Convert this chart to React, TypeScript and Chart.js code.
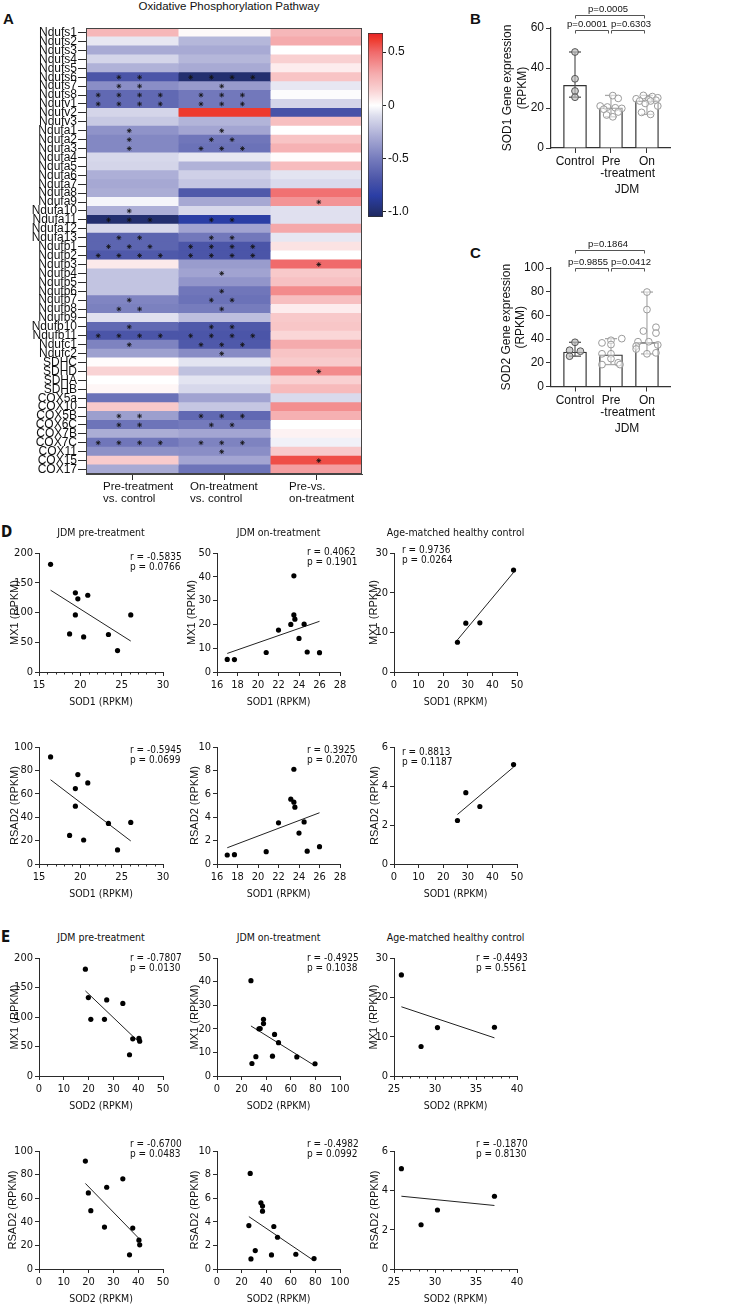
import React, { useEffect, useRef } from 'react';
import { Chart, registerables } from 'chart.js';

Chart.register(...registerables);

const REG = "'Liberation Sans', Arial, Helvetica, sans-serif";
const NAR = "'Liberation Sans Narrow', 'Arial Narrow', 'DejaVu Sans Condensed', 'Liberation Sans', sans-serif";
const AXIS = '#2a2a2a';
Chart.defaults.color = '#111';
Chart.defaults.font.family = REG;

// ================= Panel A : heatmap =================
const genes = ['Ndufs1','Ndufs2','Ndufs3','Ndufs4','Ndufs5','Ndufs6','Ndufs7','Ndufs8','Ndufv1','Ndufv2','Ndufv3','Ndufa1','Ndufa2','Ndufa3','Ndufa4','Ndufa5','Ndufa6','Ndufa7','Ndufa8','Ndufa9','Ndufa10','Ndufa11','Ndufa12','Ndufa13','Ndufb1','Ndufb2','Ndufb3','Ndufb4','Ndufb5','Ndufb6','Ndufb7','Ndufb8','Ndufb9','Ndufb10','Ndufb11','Ndufc1','Ndufc2','SDHC','SDHD','SDHA','SDHB','COX5a','COX10','COX5B','COX6C','COX7B','COX7C','COX11','COX15','COX17'];
const heatColumnLabels = [['Pre-treatment', 'vs. control'], ['On-treatment', 'vs. control'], ['Pre-vs.', 'on-treatment']];
const preVsControl = [0.25,-0.07,-0.3,-0.13,-0.27,-0.7,-0.42,-0.6,-0.6,-0.13,
  -0.18,-0.4,-0.45,-0.45,-0.12,-0.13,-0.28,-0.31,-0.29,-0.03,
  -0.28,-1.0,-0.12,-0.62,-0.62,-0.68,0.07,-0.2,-0.2,-0.2,
  -0.46,-0.48,-0.09,-0.6,-0.7,-0.47,-0.34,0.01,0.14,0.0,
  0.03,-0.55,0.18,-0.35,-0.54,-0.29,-0.53,-0.41,0.17,-0.3];
const onVsControl = [0.02,-0.25,-0.3,-0.25,-0.3,-1.0,-0.37,-0.52,-0.52,0.62,
  -0.26,-0.32,-0.53,-0.55,-0.07,-0.27,-0.15,-0.19,-0.68,-0.31,
  -0.12,-0.85,-0.33,-0.52,-0.7,-0.7,-0.36,-0.33,-0.39,-0.53,
  -0.55,-0.5,-0.22,-0.68,-0.7,-0.68,-0.43,-0.08,-0.21,-0.08,
  -0.12,-0.33,-0.19,-0.6,-0.51,-0.32,-0.47,-0.42,-0.32,-0.54];
const preVsOn = [0.25,0.3,0.0,0.15,0.06,0.2,-0.07,-0.01,-0.13,-0.72,
  0.22,0.0,0.2,0.27,0.01,0.23,-0.08,-0.11,0.48,0.37,
  -0.09,-0.09,0.31,-0.07,0.09,0.0,0.5,0.18,0.21,0.4,
  0.22,0.06,0.18,0.19,0.13,0.3,0.2,0.17,0.4,0.15,
  0.24,-0.11,0.39,0.28,0.0,0.04,-0.04,0.18,0.57,0.34];
const starsPreVsControl = [0,0,0,0,0,2,2,4,4,0, 0,1,1,1,0,0,0,0,0,0, 1,3,0,2,3,4,0,0,0,0, 1,2,0,1,4,1,0,0,0,0, 0,0,0,2,2,0,4,0,0,0];
const starsOnVsControl = [0,0,0,0,0,4,1,3,3,0, 0,1,2,3,0,0,0,0,0,0, 0,2,0,2,4,4,0,1,0,1, 2,1,0,2,4,3,1,0,0,0, 0,0,0,3,2,0,3,1,0,0];
const starsPreVsOn = [0,0,0,0,0,0,0,0,0,0, 0,0,0,0,0,0,0,0,0,1, 0,0,0,0,0,0,1,0,0,0, 0,0,0,0,0,0,0,0,1,0, 0,0,0,0,0,0,0,0,1,0];
const colorbarRange = [-1.05, 0.68];
const colorbarTicks = [-1, -0.5, 0, 0.5];
const colorbarTickLabels = ['-1.0', '-0.5', '0', '0.5'];

// ================= Panels B / C =================
const groupNames = ['Control', 'Pre-treatment', 'On-treatment'];
const groupTickLabels = [['Control'], ['Pre', '          -treatment'], ['On']];
const sod1Median = [31.3, 20.1, 23.6];
const sod1Range = [[25.4, 48], [15.6, 26.3], [16.8, 26.3]];
const sod1CtrlB = [48, 34.6, 28.5, 25.4];
const sod1PreB = [26.2, 24.8, 21.0, 20.5, 20.1, 19.8, 19.4, 18.0, 16.5, 15.6];
const sod1OnB = [26.3, 25.7, 25.1, 24.6, 24.1, 23.9, 23.5, 23.5, 22.3, 21.0, 17.8, 16.8];
const jitCtrlB = [0, 0, 0, 0];
const jitPreB = [0.05, 0.2, -0.3, -0.1, 0.12, 0.3, -0.2, 0.2, -0.12, 0.05];
const jitOnB = [-0.1, 0.15, 0.3, -0.3, 0.05, 0.25, -0.2, 0.1, -0.05, 0.3, -0.15, 0.1];
const sod1Brackets = [
  { from: 0, to: 2, level: 66.5, label: 'p=0.0005', dx: -2 },
  { from: 0, to: 1, level: 59, label: 'p=0.0001', dx: -5 },
  { from: 1, to: 2, level: 59, label: 'p=0.6303', dx: 3 },
];
const sod2Median = [29.1, 26.8, 37.1];
const sod2Range = [[25.6, 37.3], [18.5, 40.4], [27.5, 79.7]];
const sod2CtrlC = [37.3, 30.6, 29.8, 25.6];
const sod2PreC = [40.4, 39.0, 36.8, 35.4, 27.6, 27.6, 23.5, 20.0, 18.5, 18.5];
const sod2OnC = [79.7, 64.9, 50.0, 46.8, 45.1, 37.8, 37.8, 35.1, 34.1, 31.6, 28.4, 27.6];
const jitCtrlC = [0, -0.15, 0.15, -0.15];
const jitPreC = [0.3, 0, -0.25, 0, -0.25, 0, 0, 0.2, -0.25, 0.25];
const jitOnC = [0, 0, 0.25, -0.1, 0.25, -0.25, 0.05, 0.3, -0.3, -0.3, 0.25, 0];
const sod2Brackets = [
  { from: 0, to: 2, level: 115.2, label: 'p=0.1864', dx: -2 },
  { from: 0, to: 1, level: 100, label: 'p=0.9855', dx: -4 },
  { from: 1, to: 2, level: 100, label: 'p=0.0412', dx: 3 },
];

// ================= Panels D / E : scatter =================
const sod1Pre = [16.4, 18.7, 19.4, 19.4, 19.7, 20.4, 20.9, 23.4, 24.5, 26.1];
const mx1Pre = [181, 64, 133, 96, 123, 59, 129, 63, 36, 96];
const rsad2Pre = [91.5, 24.4, 64.5, 49.4, 76.4, 20.5, 69.3, 34.7, 12, 35.5];
const sod1On = [17.0, 17.7, 20.8, 22.0, 23.2, 23.5, 23.5, 23.6, 24.0, 24.5, 24.8, 26.0];
const mx1On = [5.3, 5.2, 8.2, 17.6, 20.0, 40.4, 24.0, 22.2, 14.1, 20.1, 8.4, 8.1];
const rsad2On = [0.77, 0.8, 1.05, 3.52, 5.54, 8.1, 5.28, 4.86, 2.64, 3.6, 1.1, 1.48];
const sod1Ctrl = [25.8, 29.2, 34.9, 48.6];
const mx1Ctrl = [7.5, 12.3, 12.4, 25.7];
const rsad2Ctrl = [2.23, 3.66, 2.95, 5.1];

const sod2Pre = [18.7, 19.9, 20.9, 26.4, 27.3, 33.8, 36.5, 37.8, 40.3, 40.6];
const mx1PreE = [181, 133, 96, 96, 129, 123, 36, 63, 64, 59];
const rsad2PreE = [91.5, 64.5, 49.4, 35.5, 69.3, 76.4, 12, 34.7, 24.4, 20.5];
const sod2OnMx = [27.6, 34.1, 35.1, 37.8, 37.8, 46.8, 50.0, 28.4, 31.6, 45.1, 64.9, 79.7];
const mx1OnE = [40.4, 20.0, 20.1, 24.0, 22.2, 17.6, 14.1, 5.3, 8.2, 8.4, 8.1, 5.2];
const sod2OnRs = [35.7, 37.0, 37.0, 25.9, 46.2, 49.2, 31.1, 27.6, 44.3, 64.1, 78.9, 27.0];
const rsad2OnE = [5.61, 5.33, 4.9, 3.68, 3.6, 2.69, 1.56, 0.85, 1.19, 1.25, 0.88, 8.1];
const sod2Ctrl = [25.9, 28.3, 30.3, 37.25];
const mx1CtrlE = [25.7, 7.5, 12.3, 12.4];
const rsad2CtrlE = [5.1, 2.25, 3.0, 3.7];

const fitD1 = [[16.4, 137.5], [26.1, 52]];
const fitD2 = [[17.0, 7.8], [26.0, 21.3]];
const fitD3 = [[25.8, 8.1], [48.6, 25.1]];
const fitD4 = [[16.4, 72], [26.1, 19.7]];
const fitD5 = [[17.0, 1.39], [26.0, 4.38]];
const fitD6 = [[25.8, 2.54], [48.6, 4.97]];
const fitE1 = [[18.7, 144.3], [40.6, 56.3]];
const fitE2 = [[27.6, 21.2], [79.7, 4.3]];
const fitE3 = [[25.9, 17.6], [37.25, 9.7]];
const fitE4 = [[18.7, 72.5], [40.6, 25.2]];
const fitE5 = [[25.9, 4.44], [78.9, 0.7]];
const fitE6 = [[25.9, 3.7], [37.25, 3.23]];

const corrR = ['r = -0.5835', 'r = 0.4062', 'r = 0.9736', 'r = -0.5945', 'r = 0.3925', 'r = 0.8813', 'r = -0.7807', 'r = -0.4925', 'r = -0.4493', 'r = -0.6700', 'r = -0.4982', 'r = -0.1870'];
const corrP = ['p = 0.0766', 'p = 0.1901', 'p = 0.0264', 'p = 0.0699', 'p = 0.2070', 'p = 0.1187', 'p = 0.0130', 'p = 0.1038', 'p = 0.5561', 'p = 0.0483', 'p = 0.0992', 'p = 0.8130'];
const groupTitles = ['JDM pre-treatment', 'JDM on-treatment', 'Age-matched healthy control'];

// ---------- layout (positions / styles) ----------
const COLS = [[39, 163], [217, 340], [394, 517]];
const ROWS = [[553, 672], [747, 864], [958, 1076], [1151, 1269]];

type ScatterSpec = {
  xs: number[]; ys: number[]; fit: number[][];
  xAxis: number[]; yAxis: number[]; xTitle: string; yTitle: string;
  col: number; row: number; yGap: number; textX: number; textY: number;
};
const scatterSpecs: ScatterSpec[] = [
  { xs: sod1Pre, ys: mx1Pre, fit: fitD1, xAxis: [15, 30, 5, 1], yAxis: [0, 200, 50], xTitle: 'SOD1 (RPKM)', yTitle: 'MX1 (RPKM)', col: 0, row: 0, yGap: 24, textX: 130, textY: 557 },
  { xs: sod1On, ys: mx1On, fit: fitD2, xAxis: [16, 28, 2, 0], yAxis: [0, 50, 10], xTitle: 'SOD1 (RPKM)', yTitle: 'MX1 (RPKM)', col: 1, row: 0, yGap: 25, textX: 307, textY: 552 },
  { xs: sod1Ctrl, ys: mx1Ctrl, fit: fitD3, xAxis: [0, 50, 10, 0], yAxis: [0, 30, 10], xTitle: 'SOD1 (RPKM)', yTitle: 'MX1 (RPKM)', col: 2, row: 0, yGap: 20.5, textX: 402, textY: 550 },
  { xs: sod1Pre, ys: rsad2Pre, fit: fitD4, xAxis: [15, 30, 5, 1], yAxis: [0, 100, 20], xTitle: 'SOD1 (RPKM)', yTitle: 'RSAD2 (RPKM)', col: 0, row: 1, yGap: 24, textX: 130, textY: 750 },
  { xs: sod1On, ys: rsad2On, fit: fitD5, xAxis: [16, 28, 2, 0], yAxis: [0, 10, 2], xTitle: 'SOD1 (RPKM)', yTitle: 'RSAD2 (RPKM)', col: 1, row: 1, yGap: 22, textX: 307, textY: 750 },
  { xs: sod1Ctrl, ys: rsad2Ctrl, fit: fitD6, xAxis: [0, 50, 10, 0], yAxis: [0, 6, 2], xTitle: 'SOD1 (RPKM)', yTitle: 'RSAD2 (RPKM)', col: 2, row: 1, yGap: 19.5, textX: 402, textY: 752 },
  { xs: sod2Pre, ys: mx1PreE, fit: fitE1, xAxis: [0, 50, 10, 0], yAxis: [0, 200, 50], xTitle: 'SOD2 (RPKM)', yTitle: 'MX1 (RPKM)', col: 0, row: 2, yGap: 24, textX: 130, textY: 958 },
  { xs: sod2OnMx, ys: mx1OnE, fit: fitE2, xAxis: [0, 100, 20, 0], yAxis: [0, 50, 10], xTitle: 'SOD2 (RPKM)', yTitle: 'MX1 (RPKM)', col: 1, row: 2, yGap: 22, textX: 307, textY: 958 },
  { xs: sod2Ctrl, ys: mx1CtrlE, fit: fitE3, xAxis: [25, 40, 5, 1], yAxis: [0, 30, 10], xTitle: 'SOD2 (RPKM)', yTitle: 'MX1 (RPKM)', col: 2, row: 2, yGap: 20, textX: 476, textY: 958 },
  { xs: sod2Pre, ys: rsad2PreE, fit: fitE4, xAxis: [0, 50, 10, 0], yAxis: [0, 100, 20], xTitle: 'SOD2 (RPKM)', yTitle: 'RSAD2 (RPKM)', col: 0, row: 3, yGap: 26, textX: 130, textY: 1144 },
  { xs: sod2OnRs, ys: rsad2OnE, fit: fitE5, xAxis: [0, 100, 20, 0], yAxis: [0, 10, 2], xTitle: 'SOD2 (RPKM)', yTitle: 'RSAD2 (RPKM)', col: 1, row: 3, yGap: 22, textX: 307, textY: 1144 },
  { xs: sod2Ctrl, ys: rsad2CtrlE, fit: fitE6, xAxis: [25, 40, 5, 1], yAxis: [0, 6, 2], xTitle: 'SOD2 (RPKM)', yTitle: 'RSAD2 (RPKM)', col: 2, row: 3, yGap: 19.5, textX: 476, textY: 1144 },
];

const HEAT_STOPS = [
  [-1.05, 28, 38, 95], [-1.0, 35, 47, 111], [-0.85, 43, 62, 165], [-0.7, 75, 85, 168],
  [-0.5, 118, 124, 189], [-0.3, 168, 170, 212], [-0.1, 220, 221, 237], [0, 255, 255, 255],
  [0.15, 249, 208, 209], [0.3, 245, 171, 173], [0.5, 240, 106, 107], [0.62, 238, 58, 46], [0.68, 230, 32, 38],
];
function heatColor(v: number) {
  const s = HEAT_STOPS;
  const f = (a: number[]) => `rgb(${Math.round(a[1])},${Math.round(a[2])},${Math.round(a[3])})`;
  if (v <= s[0][0]) return f(s[0]);
  for (let i = 1; i < s.length; i++) {
    if (v <= s[i][0]) {
      const t = (v - s[i - 1][0]) / (s[i][0] - s[i - 1][0]);
      return f([v, s[i - 1][1] + t * (s[i][1] - s[i - 1][1]), s[i - 1][2] + t * (s[i][2] - s[i - 1][2]), s[i - 1][3] + t * (s[i][3] - s[i - 1][3])]);
    }
  }
  return f(s[s.length - 1]);
}

const framePlugin = {
  id: 'frame',
  afterDatasetsDraw(chart: any) {
    const { ctx, chartArea: a } = chart;
    ctx.save();
    ctx.strokeStyle = '#444';
    ctx.lineWidth = 1;
    ctx.strokeRect(Math.round(a.left) + 0.5, Math.round(a.top) + 0.5, Math.round(a.right - a.left) - 1, Math.round(a.bottom - a.top) - 1);
    ctx.restore();
  },
};

const minorTickPlugin = {
  id: 'minorTicks',
  afterDraw(chart: any, _args: any, opts: any) {
    if (!opts || !opts.step) return;
    const x = chart.scales.x;
    const { ctx } = chart;
    const yb = chart.chartArea.bottom;
    ctx.save();
    ctx.strokeStyle = AXIS;
    ctx.lineWidth = 1;
    for (let v = x.min; v <= x.max + 1e-9; v += opts.step) {
      const r = v / opts.major;
      if (Math.abs(r - Math.round(r)) < 1e-6) continue;
      const px = Math.round(x.getPixelForValue(v)) + 0.5;
      ctx.beginPath();
      ctx.moveTo(px, yb);
      ctx.lineTo(px, yb + 2.5);
      ctx.stroke();
    }
    ctx.restore();
  },
};

const bracketPlugin = {
  id: 'brackets',
  afterDraw(chart: any, _args: any, opts: any) {
    if (!opts || !opts.items) return;
    const { ctx } = chart;
    const x = chart.scales.x;
    const y = chart.scales.y;
    ctx.save();
    ctx.strokeStyle = '#555';
    ctx.lineWidth = 1;
    ctx.fillStyle = '#111';
    ctx.font = `9.5px ${REG}`;
    ctx.textAlign = 'center';
    ctx.textBaseline = 'middle';
    for (const b of opts.items) {
      const x1 = Math.round(x.getPixelForValue(b.from)) + 0.5;
      const x2 = Math.round(x.getPixelForValue(b.to)) - 2.5;
      const yy = Math.round(y.getPixelForValue(b.level)) + 0.5;
      ctx.beginPath();
      ctx.moveTo(x1, yy + 3);
      ctx.lineTo(x1, yy);
      ctx.lineTo(x2, yy);
      ctx.lineTo(x2, yy + 3);
      ctx.stroke();
      ctx.fillText(b.label, (x1 + x2) / 2 + (b.dx || 0), yy - 6.5);
    }
    ctx.restore();
  },
};

function heatmapConfig(): any {
  const cols = [preVsControl, onVsControl, preVsOn];
  const stars = [starsPreVsControl, starsOnVsControl, starsPreVsOn];
  const starShift = [-0.03, -0.025, 0.03];
  const starGap = 0.225;
  const barSets = cols.map((vals, c) => ({
    type: 'bar',
    data: genes.map(() => [c, c + 1]),
    backgroundColor: vals.map((v) => heatColor(v)),
    borderWidth: 0,
    barPercentage: 1,
    categoryPercentage: 1,
    grouped: false,
    inflateAmount: 0.5,
    order: 2,
  }));
  const starPts: any[] = [];
  stars.forEach((arr, c) => arr.forEach((n, r) => {
    for (let k = 0; k < n; k++) starPts.push({ x: c + 0.5 + starShift[c] + (k - (n - 1) / 2) * starGap, y: genes[r] });
  }));
  return {
    type: 'bar',
    data: {
      labels: genes,
      datasets: [
        ...barSets,
        { type: 'scatter', data: starPts, pointStyle: 'star', pointRadius: 2.4, pointBorderColor: '#111', pointBorderWidth: 0.8, pointBackgroundColor: '#111', order: 1, clip: false },
      ],
    },
    options: {
      indexAxis: 'y',
      animation: false,
      responsive: false,
      events: [],
      layout: { padding: { top: 7, right: 6, left: 0, bottom: 0 } },
      plugins: { legend: { display: false }, tooltip: { enabled: false } },
      scales: {
        x: {
          type: 'linear', min: 0, max: 3, offset: false,
          afterBuildTicks: (s: any) => { s.ticks = [0.5, 1.5, 2.5].map((v) => ({ value: v })); },
          afterFit: (s: any) => { s.height = 16; },
          ticks: { callback: () => '', padding: 0 },
          grid: { display: true, drawOnChartArea: false, drawTicks: true, tickLength: 6, tickColor: AXIS, offset: false },
          border: { display: true, color: '#444', width: 1 },
        },
        y: {
          type: 'category', offset: true,
          afterFit: (s: any) => { s.width = 86; },
          ticks: { autoSkip: false, font: { size: 12, family: REG }, padding: 1, color: '#111' },
          grid: { display: true, drawOnChartArea: false, drawTicks: true, tickLength: 8, tickColor: AXIS, offset: false },
          border: { display: true, color: '#444', width: 1 },
        },
      },
    },
    plugins: [framePlugin],
  };
}

function colorbarConfig(): any {
  const [lo, hi] = colorbarRange;
  return {
    type: 'bar',
    data: {
      labels: [''],
      datasets: [{
        data: [[lo, hi]],
        backgroundColor: (ctx: any) => {
          const chart = ctx.chart;
          if (!chart.chartArea) return '#fff';
          const ys = chart.scales.y;
          const g = chart.ctx.createLinearGradient(0, ys.getPixelForValue(lo), 0, ys.getPixelForValue(hi));
          HEAT_STOPS.forEach((s) => {
            g.addColorStop(Math.min(1, Math.max(0, (s[0] - lo) / (hi - lo))), `rgb(${s[1]},${s[2]},${s[3]})`);
          });
          return g;
        },
        borderColor: '#333',
        borderWidth: 1,
        borderSkipped: false,
        barPercentage: 1,
        categoryPercentage: 1,
      }],
    },
    options: {
      animation: false,
      responsive: false,
      events: [],
      layout: { padding: { top: 13, left: 13, bottom: 18, right: 0 } },
      plugins: { legend: { display: false }, tooltip: { enabled: false } },
      scales: {
        x: { display: false },
        y: {
          position: 'right', min: lo, max: hi,
          afterBuildTicks: (s: any) => { s.ticks = colorbarTicks.map((v) => ({ value: v })); },
          afterFit: (s: any) => { s.width = 32; },
          ticks: { callback: (_v: any, i: number) => colorbarTickLabels[i], font: { size: 12, family: REG }, padding: 2, color: '#111' },
          grid: { display: true, drawOnChartArea: false, drawTicks: true, tickLength: 3, tickColor: '#222' },
          border: { display: false },
        },
      },
    },
  };
}

type BarSpec = {
  medians: number[]; ranges: number[][]; points: number[][]; jitter: number[][];
  yMax: number; yStep: number; yTitle: string[]; brackets: any[]; padTop: number; xHeight: number; titlePad: number;
};

function barConfig(spec: BarSpec): any {
  const whisker = ['#555', '#a8a8a8', '#a8a8a8'];
  const edge = ['#555', '#9a9a9a', '#9a9a9a'];
  const fill = ['rgba(190,190,190,0.7)', 'rgba(255,255,255,0.5)', 'rgba(255,255,255,0.5)'];
  const datasets: any[] = [];
  datasets.push({ type: 'bar', data: spec.medians.map((m, i) => ({ x: i, y: m })), backgroundColor: '#fff', borderColor: '#333', borderWidth: 1.3, barThickness: 23, order: 3 });
  spec.ranges.forEach(([a, b], i) => datasets.push({
    type: 'line', data: [{ x: i, y: a }, { x: i, y: b }], borderColor: whisker[i], borderWidth: 1.2,
    pointStyle: 'line', pointRadius: 6, pointBorderColor: whisker[i], pointBorderWidth: 1.3, order: 2, clip: false, fill: false,
  }));
  spec.points.forEach((vals, i) => datasets.push({
    type: 'scatter', data: vals.map((v, j) => ({ x: i + spec.jitter[i][j], y: v })),
    pointRadius: 3.4, pointBackgroundColor: fill[i], pointBorderColor: edge[i], pointBorderWidth: 1, order: 1, clip: false,
  }));
  return {
    type: 'bar',
    data: { datasets },
    options: {
      animation: false,
      responsive: false,
      events: [],
      layout: { padding: { top: spec.padTop, right: 10, left: 0, bottom: 0 } },
      plugins: { legend: { display: false }, tooltip: { enabled: false }, brackets: { items: spec.brackets } },
      scales: {
        x: {
          type: 'linear', min: -0.667, max: 2.64, offset: false,
          afterBuildTicks: (s: any) => { s.ticks = [0, 1, 2].map((v) => ({ value: v })); },
          afterFit: (s: any) => { s.height = spec.xHeight; },
          ticks: { callback: (_v: any, i: number) => groupTickLabels[i], font: { size: 12, family: REG, lineHeight: 1 }, padding: 3, maxRotation: 0, autoSkip: false, color: '#111' },
          grid: { display: true, drawOnChartArea: false, drawTicks: true, tickLength: 5, tickColor: '#333', offset: false },
          border: { display: true, color: '#333', width: 1.2 },
        },
        y: {
          min: 0, max: spec.yMax,
          afterFit: (s: any) => { s.width = 61; },
          ticks: { stepSize: spec.yStep, font: { size: 12, family: REG }, padding: 2, color: '#111' },
          grid: { display: true, drawOnChartArea: false, drawTicks: true, tickLength: 5, tickColor: '#333' },
          border: { display: true, color: '#333', width: 1.2 },
          title: { display: true, text: spec.yTitle, font: { size: 12, family: REG }, padding: { top: spec.titlePad, bottom: 0 }, color: '#111' },
        },
      },
    },
    plugins: [bracketPlugin],
  };
}

function scatterConfig(p: ScatterSpec): any {
  const [xMin, xMax, xStep, xMinor] = p.xAxis;
  const [yMin, yMax, yStep] = p.yAxis;
  return {
    type: 'scatter',
    data: {
      datasets: [
        { data: p.xs.map((x, i) => ({ x, y: p.ys[i] })), pointRadius: 2.6, pointBackgroundColor: '#000', pointBorderWidth: 0, clip: false, order: 1 },
        { type: 'line', data: p.fit.map(([x, y]) => ({ x, y })), borderColor: '#222', borderWidth: 1, pointRadius: 0, clip: false, order: 2, fill: false },
      ],
    },
    options: {
      animation: false,
      responsive: false,
      events: [],
      layout: { padding: { top: 10, right: 12, left: 0, bottom: 0 } },
      plugins: { legend: { display: false }, tooltip: { enabled: false }, minorTicks: { step: xMinor, major: xStep } },
      scales: {
        x: {
          type: 'linear', min: xMin, max: xMax,
          afterFit: (s: any) => { s.height = 38; },
          ticks: { stepSize: xStep, font: { size: 11, family: NAR }, padding: 2.5, maxRotation: 0, autoSkip: false, color: '#111' },
          grid: { display: true, drawOnChartArea: false, drawTicks: true, tickLength: 4, tickColor: AXIS },
          border: { display: true, color: AXIS, width: 1 },
          title: { display: true, text: p.xTitle, font: { size: 10.5, family: NAR }, padding: { top: 0, bottom: 1.7 }, color: '#111' },
        },
        y: {
          type: 'linear', min: yMin, max: yMax,
          afterFit: (s: any) => { s.width = 39; },
          ticks: { stepSize: yStep, font: { size: 11, family: NAR }, padding: 2, autoSkip: false, color: '#111' },
          grid: { display: true, drawOnChartArea: false, drawTicks: true, tickLength: 4, tickColor: AXIS },
          border: { display: true, color: AXIS, width: 1 },
          title: { display: true, text: p.yTitle, font: { size: 11, family: REG }, padding: { top: Math.max(0, 32.4 - p.yGap), bottom: 0 }, color: '#111' },
        },
      },
    },
    plugins: [minorTickPlugin],
  };
}

function ChartBox({ left, top, width, height, make }: { left: number; top: number; width: number; height: number; make: () => any }) {
  const ref = useRef<HTMLCanvasElement>(null);
  useEffect(() => {
    const chart = new Chart(ref.current as HTMLCanvasElement, make());
    return () => chart.destroy();
  }, []);
  return <canvas ref={ref} width={width} height={height} style={{ position: 'absolute', left, top, width, height }} />;
}

function T({ x, y, children, size = 11, font = REG, weight = 'normal', align = 'center' }: any) {
  const tx = align === 'center' ? '-50%' : align === 'right' ? '-100%' : '0';
  return (
    <div style={{ position: 'absolute', left: x, top: y, transform: `translate(${tx}, -50%)`, fontFamily: font, fontSize: size, fontWeight: weight, lineHeight: 1, whiteSpace: 'pre', color: '#111' }}>
      {children}
    </div>
  );
}

export default function App() {
  const barB: BarSpec = {
    medians: sod1Median, ranges: sod1Range, points: [sod1CtrlB, sod1PreB, sod1OnB], jitter: [jitCtrlB, jitPreB, jitOnB],
    yMax: 60, yStep: 20, yTitle: ['SOD1 Gene expression', '(RPKM)'], brackets: sod1Brackets, padTop: 28, xHeight: 52, titlePad: 10.8,
  };
  const barC: BarSpec = {
    medians: sod2Median, ranges: sod2Range, points: [sod2CtrlC, sod2PreC, sod2OnC], jitter: [jitCtrlC, jitPreC, jitOnC],
    yMax: 100, yStep: 20, yTitle: ['SOD2 Gene expression', '(RPKM)'], brackets: sod2Brackets, padTop: 32, xHeight: 49.5, titlePad: 9.5,
  };
  const colLabelX = [103, 190, 289];
  return (
    <div style={{ position: 'absolute', left: 0, top: 0, width: 751, height: 1307, background: '#fff', overflow: 'hidden' }} aria-label={groupNames.join(', ')}>
      {/* Panel A */}
      <T x={229} y={7} size={11.5}>Oxidative Phosphorylation Pathway</T>
      <T x={3} y={18} size={15} weight="bold" align="left">A</T>
      <ChartBox left={0} top={20} width={368} height={470} make={heatmapConfig} />
      {heatColumnLabels.map((lines, c) => lines.map((ln, k) => (
        <T key={`hc${c}${k}`} x={colLabelX[c]} y={487 + k * 12} size={11.5} align="left">{ln}</T>
      )))}
      <ChartBox left={355} top={20} width={60} height={215} make={colorbarConfig} />

      {/* Panel B */}
      <T x={470} y={18} size={15} weight="bold" align="left">B</T>
      <ChartBox left={490} top={0} width={190} height={200} make={() => barConfig(barB)} />
      <T x={627} y={189} size={12}>JDM</T>

      {/* Panel C */}
      <T x={470} y={252} size={15} weight="bold" align="left">C</T>
      <ChartBox left={490} top={236} width={190} height={200} make={() => barConfig(barC)} />
      <T x={627} y={428} size={12}>JDM</T>

      {/* Panels D / E */}
      <T x={1} y={532} size={15} font={NAR} weight="bold" align="left">D</T>
      <T x={1} y={937} size={15} font={NAR} weight="bold" align="left">E</T>
      {[532, 937].map((yy, r) => groupTitles.map((t, c) => (
        <T key={`gt${r}${c}`} x={(COLS[c][0] + COLS[c][1]) / 2} y={yy} size={10.5} font={NAR}>{t}</T>
      )))}
      {scatterSpecs.map((p, i) => {
        const [axL, axR] = COLS[p.col];
        const [axT, axB] = ROWS[p.row];
        const left = axL - 39;
        const top = axT - 10;
        return (
          <React.Fragment key={`sc${i}`}>
            <ChartBox left={left} top={top} width={axR - left + 12} height={axB + 38 - top} make={() => scatterConfig(p)} />
            <T x={p.textX} y={p.textY} size={10} font={NAR} align="left">{corrR[i]}</T>
            <T x={p.textX} y={p.textY + 9.5} size={10} font={NAR} align="left">{corrP[i]}</T>
          </React.Fragment>
        );
      })}
    </div>
  );
}
